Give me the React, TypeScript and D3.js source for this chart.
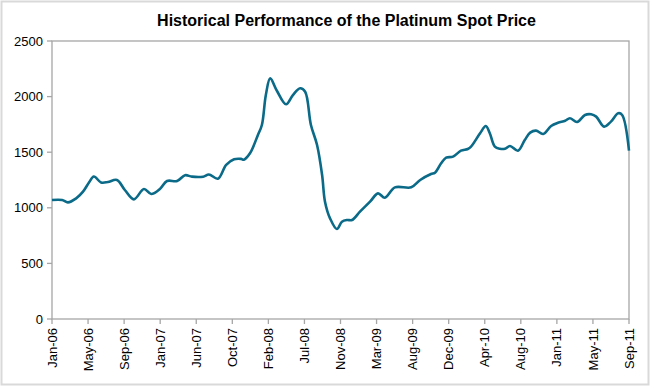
import React from "react";
import * as d3 from "d3";

// Category-axis labels (evenly spaced, as in the original Excel chart)
const tickLabels = [
  "Jan-06", "May-06", "Sep-06", "Jan-07", "Jun-07", "Oct-07", "Feb-08", "Jul-08",
  "Nov-08", "Mar-09", "Aug-09", "Dec-09", "Apr-10", "Aug-10", "Jan-11", "May-11", "Sep-11",
];

// Position of each reading along the category axis (in label-interval units)
const periods = [
  0.0, 0.28, 0.44, 0.67, 0.86, 1.03, 1.16, 1.36, 1.55, 1.8, 2.02, 2.27, 2.55, 2.75, 3.0,
  3.19, 3.47, 3.69, 3.88, 4.19, 4.35, 4.6, 4.83, 5.05, 5.24, 5.32, 5.49, 5.71, 5.82, 5.93,
  6.05, 6.24, 6.49, 6.68, 6.88, 7.02, 7.18, 7.35, 7.49, 7.57, 7.71, 7.9, 8.04, 8.18, 8.32,
  8.54, 8.82, 9.04, 9.23, 9.51, 9.96, 10.21, 10.51, 10.62, 10.79, 10.93, 11.12, 11.34,
  11.53, 11.62, 11.87, 12.03, 12.14, 12.28, 12.42, 12.56, 12.7, 12.92, 13.11, 13.26,
  13.42, 13.62, 13.84, 14.03, 14.23, 14.36, 14.56, 14.78, 14.95, 15.09, 15.31, 15.5,
  15.7, 15.81, 16.0,
];

// Platinum spot price (USD/oz)
const prices = [
  1070, 1070, 1049, 1085, 1145, 1230, 1282, 1228, 1232, 1250, 1160, 1076, 1169, 1124, 1172,
  1241, 1241, 1293, 1280, 1280, 1300, 1262, 1385, 1436, 1440, 1433, 1490, 1655, 1745, 2014,
  2164, 2050, 1931, 2014, 2075, 2044, 1745, 1565, 1295, 1055, 905, 809, 875, 890, 890,
  965, 1055, 1130, 1091, 1184, 1184, 1250, 1304, 1316, 1400, 1451, 1460, 1514,
  1529, 1550, 1670, 1736, 1670, 1550, 1531, 1531, 1556, 1514, 1610, 1676,
  1694, 1664, 1736, 1765, 1783, 1805, 1772, 1835, 1841, 1820, 1730, 1775,
  1850, 1835, 1515,
];

const yTicks = [0, 500, 1000, 1500, 2000, 2500];

const W = 650;
const H = 386;
const M = { left: 52, right: 21, top: 41, bottom: 67 };

export default function App() {
  const x = d3.scaleLinear().domain([0, tickLabels.length - 1]).range([M.left, W - M.right]);
  const y = d3.scaleLinear().domain([0, 2500]).range([H - M.bottom, M.top]);
  const data = periods.map((p, i) => ({ p, v: prices[i] }));
  const line = d3
    .line<{ p: number; v: number }>()
    .x((d) => x(d.p))
    .y((d) => y(d.v))
    .curve(d3.curveCatmullRom.alpha(0.5));

  const font = "Arial, 'Liberation Sans', sans-serif";
  const axisColor = "#a6a6a6";
  const x0 = M.left;
  const x1 = W - M.right;
  const y0 = H - M.bottom;
  const y1 = M.top;

  return (
    <svg
      width={W}
      height={H}
      style={{ position: "absolute", left: 0, top: 0, background: "#fff" }}
      fontFamily={font}
    >
      <rect x={1.5} y={1.5} width={W - 3} height={H - 3} fill="#fff" stroke="#d9d9d9" strokeWidth={2} />
      <text x={346.5} y={26} textAnchor="middle" fontWeight="bold" fontSize={16} fill="#000">
        Historical Performance of the Platinum Spot Price
      </text>
      {/* plot area border */}
      <rect x={x0} y={y1} width={x1 - x0} height={y0 - y1} fill="none" stroke={axisColor} strokeWidth={1.3} />
      {/* y ticks */}
      {yTicks.map((t) => (
        <g key={t}>
          <line x1={x0 - 5} x2={x0} y1={y(t)} y2={y(t)} stroke={axisColor} strokeWidth={1.3} />
          <text x={x0 - 9} y={y(t)} dy="0.35em" textAnchor="end" fontSize={13} fill="#000">
            {t}
          </text>
        </g>
      ))}
      {/* x ticks */}
      {tickLabels.map((lab, i) => (
        <g key={lab}>
          <line x1={x(i)} x2={x(i)} y1={y0} y2={y0 + 5} stroke={axisColor} strokeWidth={1.3} />
          <text
            transform={`translate(${x(i)},${y0 + 9}) rotate(-90)`}
            dy="0.35em"
            textAnchor="end"
            fontSize={13}
            fill="#000"
          >
            {lab}
          </text>
        </g>
      ))}
      <path d={line(data) || ""} fill="none" stroke="#0a6a88" strokeWidth={2.6} strokeLinejoin="round" />
    </svg>
  );
}
